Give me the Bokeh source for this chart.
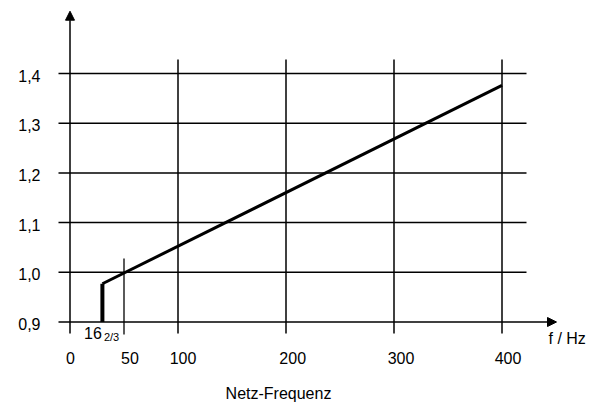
from bokeh.plotting import figure
from bokeh.models import Range1d, Arrow, NormalHead, ColumnDataSource
from bokeh.core.properties import value
from bokeh.embed import file_html
from bokeh.resources import INLINE

# ---- data ----
freq = [30, 400]                 # drawn position of 16 2/3 Hz start, end
factor = [0.977, 1.376]
start_freq = [30, 30]
start_factor = [0.9, 0.977]
x_ticks = [0, 50, 100, 200, 300, 400]
x_tick_labels = ["0", "50", "100", "200", "300", "400"]
y_ticks = [0.9, 1.0, 1.1, 1.2, 1.3, 1.4]
y_tick_labels = ["0,9", "1,0", "1,1", "1,2", "1,3", "1,4"]
x_grid = [100, 200, 300, 400]
marker_freq = 50

# ---- layout helpers (pixel mapping of the frame) ----
W, H = 588, 404
LEFT, TOP = 0, 0
X0PX, PX_HZ = 69.5, 1.08
Y0PX, PX_UNIT = 321.5, 497.0

def px_x(px):
    return (px - X0PX) / PX_HZ

def px_y(py):
    return 0.9 + (Y0PX - py) / PX_UNIT

x_start = px_x(LEFT)
y_end = px_y(TOP)

FONT = value("Liberation Sans")
FS = "16px"

p = figure(width=W, height=H, output_backend="svg", toolbar_location=None,
           x_range=Range1d(x_start, x_start + W / PX_HZ),
           y_range=Range1d(y_end - H / PX_UNIT, y_end),
           min_border=0, outline_line_color=None)
p.axis.visible = False
p.grid.visible = False
p.background_fill_color = "white"

# horizontal grid lines
hy = y_ticks[1:]
p.segment(x0=[px_x(58)] * len(hy), y0=hy, x1=[px_x(526)] * len(hy), y1=hy,
          line_color="black", line_width=1.5)
# vertical grid lines
p.segment(x0=x_grid, y0=[px_y(333)] * len(x_grid), x1=x_grid, y1=[px_y(59)] * len(x_grid),
          line_color="black", line_width=1.5)
# 50 Hz marker
p.segment(x0=[marker_freq], y0=[px_y(334)], x1=[marker_freq], y1=[px_y(258)],
          line_color="black", line_width=1.3)

# axes with arrows
p.add_layout(Arrow(x_start=px_x(58), y_start=0.9, x_end=px_x(556), y_end=0.9,
                   line_color="black", line_width=1.5,
                   end=NormalHead(size=9, fill_color="black", line_color="black")))
p.add_layout(Arrow(x_start=0, y_start=px_y(333), x_end=0, y_end=px_y(10.7),
                   line_color="black", line_width=1.5,
                   end=NormalHead(size=9, fill_color="black", line_color="black")))

# data
p.line(start_freq, start_factor, line_color="black", line_width=4)
p.line(freq, factor, line_color="black", line_width=3, line_join="miter")

# y tick labels
p.text(x=[0] * len(y_ticks), y=y_ticks, text=y_tick_labels, x_offset=-29.5, y_offset=2,
       text_align="right", text_baseline="middle", text_font=FONT, text_font_size=FS,
       text_color="black")
# x tick labels
x_offsets = [0.5, 6, 5, 6.7, 7, 6]
src = ColumnDataSource(dict(x=x_ticks, y=[0.9] * len(x_ticks), t=x_tick_labels, dx=x_offsets))
p.text(x="x", y="y", text="t", x_offset="dx", y_offset=36, source=src,
       text_align="center", text_baseline="middle", text_font=FONT, text_font_size=FS,
       text_color="black")
# 16 2/3 label
p.text(x=[start_freq[0]], y=[0.9], text=["16"], x_offset=-0.5, y_offset=11,
       text_align="right", text_baseline="middle", text_font=FONT, text_font_size=FS,
       text_color="black")
p.text(x=[start_freq[0]], y=[0.9], text=["2/3"], x_offset=1.5, y_offset=14.5,
       text_align="left", text_baseline="middle", text_font=FONT, text_font_size="11px",
       text_color="black")
# axis titles
p.text(x=[px_x(548)], y=[0.9], text=["f / Hz"], y_offset=16.5,
       text_align="left", text_baseline="middle", text_font=FONT, text_font_size=FS,
       text_color="black")
p.text(x=[px_x(278)], y=[0.9], text=["Netz-Frequenz"], y_offset=71.5,
       text_align="center", text_baseline="middle", text_font=FONT, text_font_size="16px",
       text_color="black")

open("out.html", "w").write(file_html(p, INLINE))
